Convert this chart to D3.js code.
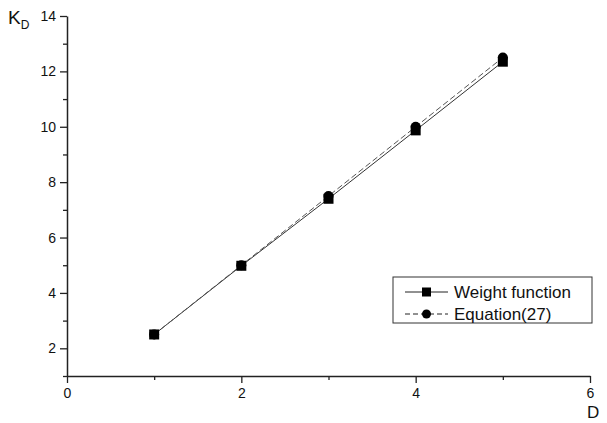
<!DOCTYPE html>
<html><head><meta charset="utf-8">
<script src="https://cdn.jsdelivr.net/npm/d3@7"></script>
<style>body{margin:0;background:#fff}svg{display:block}text{font-family:Arial,"Liberation Sans",sans-serif}</style>
</head><body><svg id="c" width="607" height="423"></svg>
<script>
const xValues = [1, 2, 3, 4, 5];
const weightFunction = [2.5, 4.98, 7.4, 9.87, 12.35];
const equation27 = [2.5, 5.0, 7.5, 10.0, 12.5];
const xTicks = [0, 2, 4, 6];
const yTicks = [2, 4, 6, 8, 10, 12, 14];
const seriesNames = ["Weight function", "Equation(27)"];

const svg = d3.select("#c");
const x = d3.scaleLinear().domain([0, 6]).range([67, 590]);
const y = d3.scaleLinear().domain([1, 14]).range([376, 16]);

// axes
const xAxis = d3.axisBottom(x).tickValues(xTicks).tickFormat(d3.format("d")).tickSize(7).tickSizeOuter(0);
const gx = svg.append("g").attr("transform", "translate(0,376)").call(xAxis);
gx.attr("font-size", 14);
gx.selectAll(".tick text").style("font-size", "14px").attr("dy", "0.85em").attr("fill", "#111");
svg.append("g").attr("transform", "translate(0,376)")
  .call(d3.axisBottom(x).tickValues([1, 3, 5]).tickFormat("").tickSize(4).tickSizeOuter(0))
  .select(".domain").remove();

const yAxis = d3.axisLeft(y).tickValues(yTicks).tickFormat(d3.format("d")).tickSize(7).tickSizeOuter(0);
const gy = svg.append("g").attr("transform", "translate(67,0)").call(yAxis);
gy.attr("font-size", 14);
gy.selectAll(".tick text").style("font-size", "14px").attr("x", -11).attr("fill", "#111");
svg.append("g").attr("transform", "translate(67,0)")
  .call(d3.axisLeft(y).tickValues([1, 3, 5, 7, 9, 11, 13]).tickFormat("").tickSize(4).tickSizeOuter(0))
  .select(".domain").remove();
svg.selectAll(".domain").attr("stroke", "#222").attr("stroke-width", 1.5);
svg.selectAll(".tick line").attr("stroke", "#222").attr("stroke-width", 1.3);

// axis titles
const kd = svg.append("text").attr("x", 8).attr("y", 24).style("font-size", "19px").attr("fill", "#111");
kd.append("tspan").text("K");
kd.append("tspan").style("font-size", "12px").attr("dy", 5).text("D");
svg.append("text").attr("x", 587).attr("y", 418).style("font-size", "17px").attr("fill", "#111").text("D");

// lines
const lineW = d3.line().x((d, i) => x(xValues[i])).y(d => y(d));
svg.append("path").datum(weightFunction).attr("d", lineW).attr("fill", "none")
  .attr("stroke", "#333").attr("stroke-width", 1);
svg.append("path").datum(equation27).attr("d", lineW).attr("fill", "none")
  .attr("stroke", "#555").attr("stroke-width", 1).attr("stroke-dasharray", "6,3");

// markers
svg.selectAll("rect.m").data(weightFunction).enter().append("rect").attr("class", "m")
  .attr("x", (d, i) => x(xValues[i]) - 5).attr("y", d => y(d) - 5)
  .attr("width", 10).attr("height", 10).attr("fill", "#000");
svg.selectAll("circle.m").data(equation27).enter().append("circle").attr("class", "m")
  .attr("cx", (d, i) => x(xValues[i])).attr("cy", d => y(d)).attr("r", 5).attr("fill", "#000");

// legend
const lg = svg.append("g");
lg.append("rect").attr("x", 393).attr("y", 277).attr("width", 199).attr("height", 46)
  .attr("fill", "#fff").attr("stroke", "#333").attr("stroke-width", 1);
const rows = [292, 314];
seriesNames.forEach((name, i) => {
  const yy = rows[i];
  lg.append("line").attr("x1", 405).attr("x2", 448).attr("y1", yy).attr("y2", yy)
    .attr("stroke", "#222").attr("stroke-width", 1).attr("stroke-dasharray", i ? "5,3" : null);
  if (i === 0) lg.append("rect").attr("x", 422).attr("y", yy - 4.5).attr("width", 9).attr("height", 9).attr("fill", "#000");
  else lg.append("circle").attr("cx", 426.5).attr("cy", yy).attr("r", 4.5).attr("fill", "#000");
  lg.append("text").attr("x", 454).attr("y", yy + 6).style("font-size", "17px").attr("fill", "#111").text(name);
});
</script></body></html>
